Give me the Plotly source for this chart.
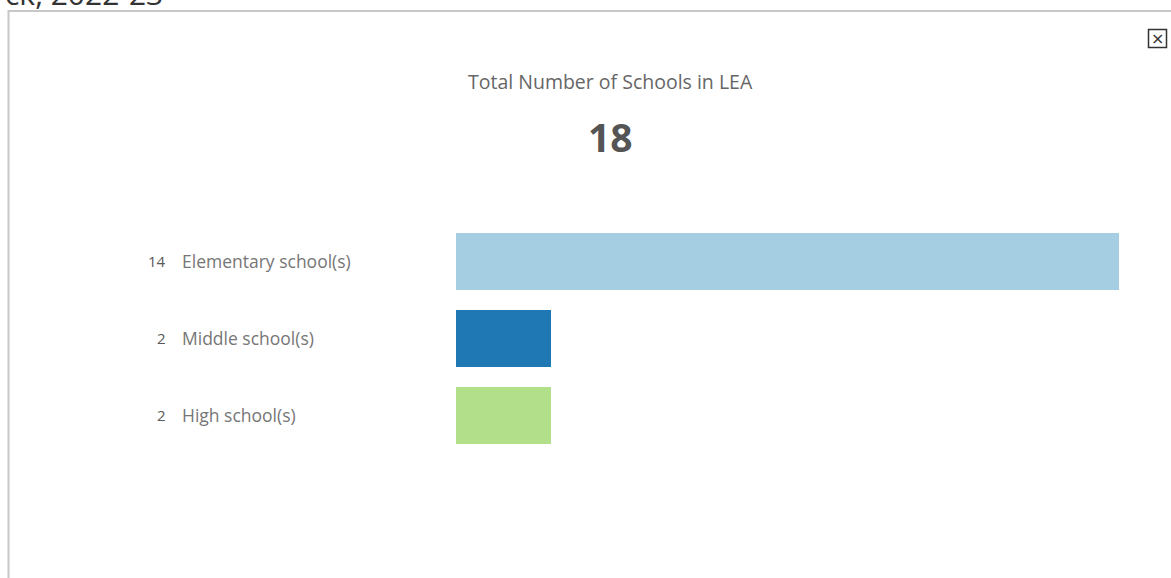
import plotly.graph_objects as go

W, H = 1171, 578

categories = ["Elementary school(s)", "Middle school(s)", "High school(s)"]
counts = [14, 2, 2]
colors = ["#a6cee3", "#1f78b4", "#b2df8a"]
total = sum(counts)
title_text = "Total Number of Schools in LEA"
page_title = "ck, 2022-23"

FONT = "Open Sans"

def px(x):
    return x / W

def py(y):
    return 1 - y / H

fig = go.Figure()
fig.add_trace(go.Bar(
    y=categories, x=counts, orientation="h",
    marker=dict(color=colors, line=dict(width=0)),
    width=0.753, hoverinfo="x+y", showlegend=False,
))

annotations = []
for c, v in zip(categories, counts):
    annotations.append(dict(xref="paper", yref="y", x=px(168), y=c, text=str(v),
                            xanchor="right", yanchor="middle", showarrow=False,
                            font=dict(family=FONT, size=15, color="#595959")))
    annotations.append(dict(xref="paper", yref="y", x=px(180), y=c, text=c,
                            xanchor="left", yanchor="middle", showarrow=False,
                            font=dict(family=FONT, size=17.5, color="#767676")))

annotations.append(dict(xref="paper", yref="paper", x=px(610), y=py(82), text=title_text,
                        xanchor="center", yanchor="middle", showarrow=False,
                        font=dict(family=FONT, size=19.5, color="#666666")))
annotations.append(dict(xref="paper", yref="paper", x=px(610), y=py(137), text="<b>%d</b>" % total,
                        xanchor="center", yanchor="middle", showarrow=False,
                        font=dict(family=FONT, size=39, color="#555555")))
annotations.append(dict(xref="paper", yref="paper", x=px(165), y=py(16), text=page_title,
                        xanchor="right", yanchor="bottom", showarrow=False,
                        font=dict(family=FONT, size=30, color="#333333")))
annotations.append(dict(xref="paper", yref="paper", x=px(1157.5), y=py(38.5), text="×",
                        xanchor="center", yanchor="middle", showarrow=False,
                        font=dict(family="DejaVu Sans", size=16, color="#333333")))

shapes = [
    # panel border
    dict(type="line", xref="paper", yref="paper", x0=px(8.5), x1=px(8.5), y0=py(10), y1=py(590),
         line=dict(color="#c8c8c8", width=2)),
    dict(type="line", xref="paper", yref="paper", x0=px(8), x1=px(1175), y0=py(11), y1=py(11),
         line=dict(color="#c8c8c8", width=2)),
    # close button
    dict(type="rect", xref="paper", yref="paper", x0=px(1148.5), x1=px(1166.5), y0=py(29.5), y1=py(47.5),
         line=dict(color="#333333", width=1.5), fillcolor="white"),
]

x0d, x1d = 456, 1119
top, bot = 222.5, 453.5
fig.update_layout(
    width=W, height=H,
    margin=dict(l=0, r=0, t=0, b=0),
    paper_bgcolor="white", plot_bgcolor="white",
    xaxis=dict(domain=[px(x0d), px(x1d)], range=[0, 14], visible=False, fixedrange=True),
    yaxis=dict(domain=[py(bot), py(top)], range=[2.5, -0.5], visible=False,
               categoryorder="array", categoryarray=categories, fixedrange=True),
    annotations=annotations, shapes=shapes,
    bargap=0,
)
fig.write_html("out.html", config={"displayModeBar": False},
               post_script="document.body.style.margin='0px';document.body.style.overflow='hidden';")
